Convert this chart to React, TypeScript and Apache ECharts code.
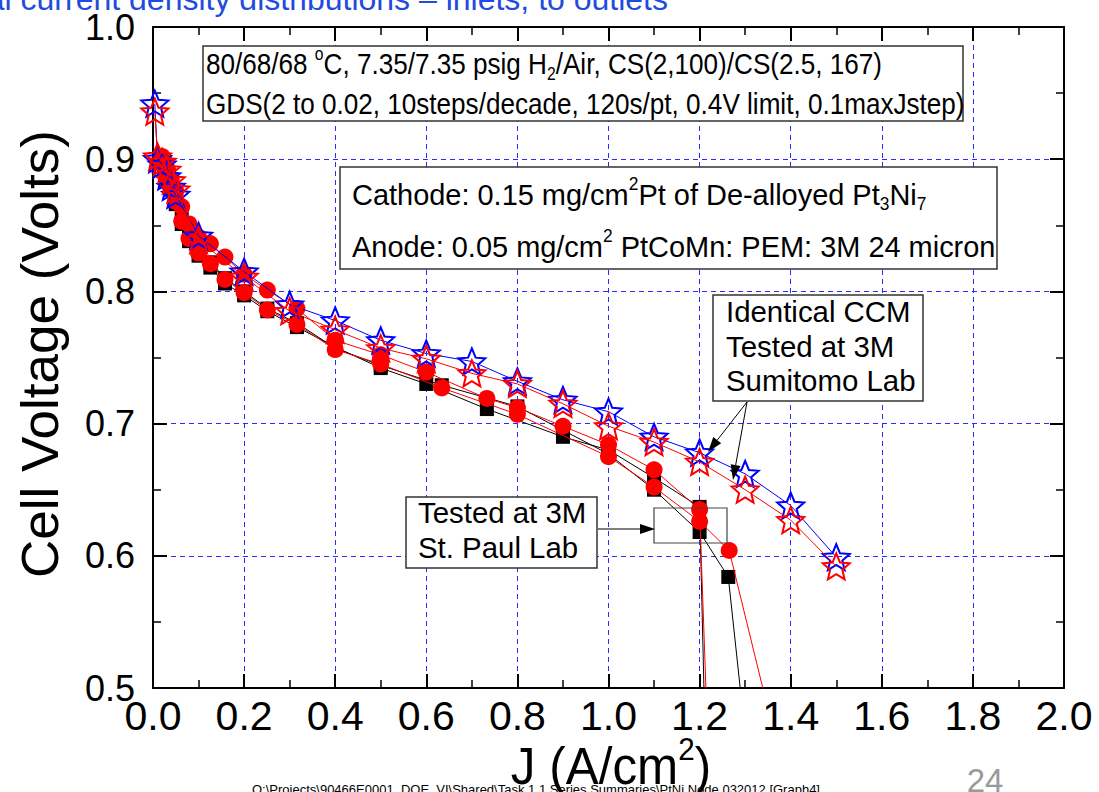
import React, { useEffect, useRef } from "react";
import * as echarts from "echarts";

const FONT = "'Liberation Sans', Arial, sans-serif";

const xTicks = [0.0, 0.2, 0.4, 0.6, 0.8, 1.0, 1.2, 1.4, 1.6, 1.8, 2.0];
const yTicks = [0.5, 0.6, 0.7, 0.8, 0.9, 1.0];

// Sumitomo Lab (stars)
const blueStarJ = [0.004, 0.01, 0.02, 0.03, 0.04, 0.05, 0.1, 0.2, 0.3, 0.4, 0.5, 0.6, 0.7, 0.8, 0.9, 1.0, 1.1, 1.2, 1.3, 1.4, 1.5];
const blueStarV = [0.942, 0.9, 0.896, 0.887, 0.879, 0.873, 0.842, 0.815, 0.79, 0.778, 0.763, 0.753, 0.747, 0.732, 0.718, 0.709, 0.69, 0.678, 0.662, 0.638, 0.599];
const redStarJ = [0.004, 0.01, 0.02, 0.03, 0.04, 0.05, 0.1, 0.2, 0.3, 0.4, 0.5, 0.6, 0.7, 0.8, 0.9, 1.0, 1.1, 1.2, 1.3, 1.4, 1.5];
const redStarV = [0.936, 0.902, 0.898, 0.892, 0.884, 0.877, 0.839, 0.811, 0.785, 0.771, 0.757, 0.749, 0.738, 0.73, 0.715, 0.698, 0.686, 0.671, 0.65, 0.627, 0.592];

// St. Paul Lab (circles and squares)
const circleAJ = [0.02, 0.025, 0.032, 0.04, 0.05, 0.063, 0.079, 0.1, 0.126, 0.158, 0.2, 0.251, 0.316, 0.4, 0.5, 0.6, 0.733, 0.8, 0.9, 1.0, 1.1, 1.2, 1.218];
const circleAV = [0.902, 0.898, 0.892, 0.885, 0.876, 0.864, 0.851, 0.841, 0.836, 0.826, 0.813, 0.801, 0.787, 0.763, 0.752, 0.739, 0.719, 0.712, 0.698, 0.684, 0.665, 0.635, 0.46];
const circleBJ = [0.02, 0.025, 0.032, 0.04, 0.05, 0.063, 0.079, 0.1, 0.126, 0.158, 0.2, 0.251, 0.316, 0.4, 0.5, 0.634, 0.8, 1.0, 1.1, 1.2, 1.265, 1.36];
const circleBV = [0.899, 0.894, 0.887, 0.879, 0.868, 0.853, 0.84, 0.829, 0.821, 0.809, 0.799, 0.786, 0.775, 0.756, 0.745, 0.727, 0.707, 0.675, 0.652, 0.626, 0.604, 0.47];
const squareAJ = [0.02, 0.025, 0.032, 0.04, 0.05, 0.063, 0.079, 0.1, 0.126, 0.158, 0.2, 0.251, 0.316, 0.4, 0.5, 0.6, 0.733, 0.9, 1.0, 1.1, 1.2, 1.213];
const squareAV = [0.898, 0.893, 0.885, 0.877, 0.866, 0.851, 0.838, 0.827, 0.818, 0.806, 0.797, 0.785, 0.773, 0.758, 0.742, 0.73, 0.711, 0.69, 0.68, 0.659, 0.637, 0.45];
const squareBJ = [0.02, 0.025, 0.032, 0.04, 0.05, 0.063, 0.079, 0.1, 0.126, 0.158, 0.2, 0.251, 0.316, 0.4, 0.5, 0.634, 0.8, 1.0, 1.1, 1.2, 1.263, 1.3];
const squareBV = [0.9, 0.895, 0.888, 0.88, 0.87, 0.855, 0.842, 0.831, 0.822, 0.81, 0.8, 0.787, 0.776, 0.757, 0.744, 0.729, 0.713, 0.677, 0.65, 0.618, 0.584, 0.465];

function starSymbol(): string {
  const pts: string[] = [];
  for (let i = 0; i < 10; i++) {
    const r = i % 2 === 0 ? 1 : 0.45;
    const a = -Math.PI / 2 + (i * Math.PI) / 5;
    pts.push(`${(r * Math.cos(a)).toFixed(3)} ${(r * Math.sin(a)).toFixed(3)}`);
  }
  return "path://M" + pts.join(" L") + " Z";
}

function arrow(x1: number, y1: number, x2: number, y2: number) {
  const dx = x2 - x1, dy = y2 - y1;
  const L = Math.hypot(dx, dy);
  const ux = dx / L, uy = dy / L;
  const bx = x2 - ux * 15, by = y2 - uy * 15;
  const px = -uy * 5, py = ux * 5;
  return [
    { type: "line", z: 20, shape: { x1, y1, x2: bx, y2: by }, style: { stroke: "#000", lineWidth: 1 } },
    { type: "polygon", z: 20, shape: { points: [[x2, y2], [bx + px, by + py], [bx - px, by - py]] }, style: { fill: "#000" } },
  ];
}

function box(x: number, y: number, w: number, h: number, fill = "#fff") {
  return { type: "rect", z: 10, shape: { x, y, width: w, height: h }, style: { fill, stroke: "#333", lineWidth: 1.5 } };
}

function label(x: number, y: number, text: string, fs = 30, align = "left", extra: any = {}) {
  return {
    type: "text",
    z: 30,
    x,
    y,
    scaleX: extra.scaleX ?? 0.87,
    rotation: extra.rotation ?? 0,
    style: {
      text,
      align,
      textAlign: align,
      verticalAlign: "middle",
      textVerticalAlign: "middle",
      fill: extra.color ?? "#000",
      font: `${fs}px ${FONT}`,
      fontSize: fs,
      fontFamily: FONT,
      rich: {
        t: { fontSize: fs, fontFamily: FONT, lineHeight: fs * 1.27, fill: extra.color ?? "#000" },
        sup: { fontSize: fs * 0.6, fontFamily: FONT, lineHeight: fs * 0.6, verticalAlign: "top", fill: "#000" },
        sub: { fontSize: fs * 0.6, fontFamily: FONT, lineHeight: fs * 0.6, verticalAlign: "bottom", fill: "#000" },
      },
    },
  };
}

export default function App() {
  const ref = useRef<HTMLDivElement>(null);
  useEffect(() => {
    if (!ref.current) return;
    const chart = echarts.init(ref.current, undefined, { renderer: "svg" });
    const star = starSymbol();
    const mk = (J: number[], V: number[], symbol: string, size: any, color: string, fill: string, bw: number, z: number) => ({
      type: "line",
      data: J.map((j, i) => [j, V[i]]),
      symbol,
      symbolSize: size,
      showSymbol: true,
      clip: true,
      z,
      lineStyle: { color, width: 1 },
      itemStyle: { color: fill, borderColor: color, borderWidth: bw },
      emphasis: { disabled: true },
    });
    const axisBase = {
      type: "value",
      axisLine: { show: true, onZero: false, lineStyle: { color: "#000", width: 2 } },
      axisTick: { show: true, inside: true, length: 14, lineStyle: { color: "#000", width: 2 } },
      minorTick: { show: true, splitNumber: 2, length: 8, lineStyle: { color: "#000", width: 1.5 } },
    };
    const option: any = {
      animation: false,
      backgroundColor: "#fff",
      grid: { left: 153, right: 35, top: 27, bottom: 104, containLabel: false },
      xAxis: [
        {
          ...axisBase,
          position: "bottom",
          min: xTicks[0],
          max: xTicks[xTicks.length - 1],
          interval: 0.2,
          splitLine: { show: true, lineStyle: { color: "#2a2aff", type: [5, 4], width: 1 } },
          axisLabel: { show: true, fontSize: 41, fontFamily: FONT, color: "#000", margin: 7, formatter: (v: number) => v.toFixed(1) },
        },
        {
          ...axisBase,
          position: "top",
          min: xTicks[0],
          max: xTicks[xTicks.length - 1],
          interval: 0.2,
          splitLine: { show: false },
          axisLabel: { show: false },
        },
      ],
      yAxis: [
        {
          ...axisBase,
          position: "left",
          min: yTicks[0],
          max: yTicks[yTicks.length - 1],
          interval: 0.1,
          splitLine: { show: true, lineStyle: { color: "#2a2aff", type: [5, 4], width: 1 } },
          axisLabel: { show: true, fontSize: 36, fontFamily: FONT, color: "#000", margin: 18, formatter: (v: number) => v.toFixed(1) },
        },
        {
          ...axisBase,
          position: "right",
          min: yTicks[0],
          max: yTicks[yTicks.length - 1],
          interval: 0.1,
          splitLine: { show: false },
          axisLabel: { show: false },
        },
      ],
      series: [
        mk(squareAJ, squareAV, "rect", 14, "#000", "#000", 0, 2),
        mk(squareBJ, squareBV, "rect", 14, "#000", "#000", 0, 2),
        mk(circleAJ, circleAV, "circle", 17, "#ff0000", "#ff0000", 0, 3),
        mk(circleBJ, circleBV, "circle", 17, "#ff0000", "#ff0000", 0, 3),
        mk(blueStarJ, blueStarV, star, [27, 26], "#0000ff", "transparent", 2, 4),
        mk(redStarJ, redStarV, star, [27, 26], "#ff0000", "transparent", 2, 5),
      ],
      graphic: [
        {
          type: "text", z: 30, x: 668, y: -1,
          style: { text: "Local current density distributions \u2013 inlets, to outlets", align: "right", textAlign: "right", verticalAlign: "middle", textVerticalAlign: "middle", fill: "#1f4be0", font: `32px ${FONT}` },
        },
        box(203, 46, 760, 75),
        label(206, 64, "{t|80/68/68 }{sup|o}{t|C, 7.35/7.35 psig H}{sub|2}{t|/Air, CS(2,100)/CS(2.5, 167)}"),
        label(206, 103.5, "{t|GDS(2 to 0.02, 10steps/decade, 120s/pt, 0.4V limit, 0.1maxJstep)}"),
        box(340, 167, 657, 102),
        label(352, 194, "{t|Cathode: 0.15 mg/cm}{sup|2}{t|Pt of De-alloyed Pt}{sub|3}{t|Ni}{sub|7}", 30, "left", { scaleX: 0.965 }),
        label(352, 246, "{t|Anode: 0.05 mg/cm}{sup|2}{t| PtCoMn: PEM: 3M 24 micron}", 30, "left", { scaleX: 0.965 }),
        box(713, 295, 210, 106),
        label(726, 311, "{t|Identical CCM}", 30, "left", { scaleX: 0.98 }),
        label(726, 346, "{t|Tested at 3M}", 30, "left", { scaleX: 0.98 }),
        label(726, 380, "{t|Sumitomo Lab}", 30, "left", { scaleX: 0.98 }),
        box(406, 497, 191, 71),
        label(418, 512.5, "{t|Tested at 3M}", 30, "left", { scaleX: 0.98 }),
        label(418, 547.5, "{t|St. Paul Lab}", 30, "left", { scaleX: 0.98 }),
        { type: "rect", z: 10, shape: { x: 654, y: 508, width: 73, height: 35 }, style: { fill: "none", stroke: "#444", lineWidth: 1.2 } },
        ...arrow(747, 402, 708, 452),
        ...arrow(747, 402, 733, 480),
        ...arrow(598, 529, 655, 529),
        label(40, 354, "{t|Cell Voltage (Volts)}", 52, "center", { rotation: Math.PI / 2, scaleX: 1.02 }),
        label(611, 766, "{t|J (A/cm}{sup|2}{t|)}", 52, "center", { scaleX: 0.95 }),
        {
          type: "text", z: 30, x: 252, y: 789,
          style: { text: "O:\\Projects\\90466E0001_DOE_VI\\Shared\\Task 1.1 Series Summaries\\PtNi Node 032012 [Graph4]", align: "left", textAlign: "left", verticalAlign: "middle", textVerticalAlign: "middle", fill: "#000", font: `13px ${FONT}` },
        },
        {
          type: "text", z: 30, x: 985, y: 780,
          style: { text: "24", align: "center", textAlign: "center", verticalAlign: "middle", textVerticalAlign: "middle", fill: "#999", font: `33px ${FONT}` },
        },
      ],
    };
    chart.setOption(option);
    return () => chart.dispose();
  }, []);
  return <div ref={ref} style={{ position: "fixed", left: 0, top: 0, width: 1099, height: 792, background: "#fff" }} />;
}
